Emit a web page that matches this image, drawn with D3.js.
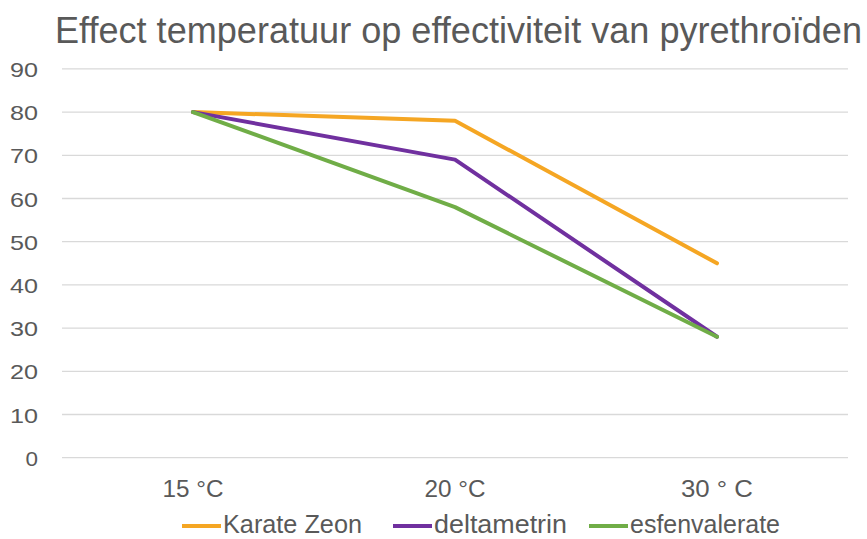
<!DOCTYPE html>
<html><head><meta charset="utf-8">
<script src="https://cdn.jsdelivr.net/npm/d3@7"></script>
<style>body{margin:0;background:#fff}text{font-family:"Liberation Sans",Arial,sans-serif;fill:#595959}</style>
</head><body><svg id="c" width="867" height="539"></svg>
<script>
const title = "Effect temperatuur op effectiviteit van pyrethroïden";
const categories = ["15 °C", "20 °C", "30 ° C"];
const seriesNames = ["Karate Zeon", "deltametrin", "esfenvalerate"];
const karateZeon = [80, 78, 45];
const deltametrin = [80, 69, 28];
const esfenvalerate = [80, 58, 28];
const yTicks = [0, 10, 20, 30, 40, 50, 60, 70, 80, 90];
const colors = ["#F5A623", "#70309F", "#70AD47"];
const series = [karateZeon, deltametrin, esfenvalerate];

const svg = d3.select("#c");
const x = d3.scaleBand().domain(categories).range([62, 848]);
const y = d3.scaleLinear().domain([0, 90]).range([457.7, 68.9]);

// gridlines
svg.append("g").selectAll("line").data(yTicks).join("line")
  .attr("x1", 62).attr("x2", 848)
  .attr("y1", d => y(d)).attr("y2", d => y(d))
  .attr("stroke", "#d9d9d9").attr("stroke-width", 1.3);

// y axis labels
const yAxis = d3.axisLeft(y).tickValues(yTicks).tickSize(0).tickPadding(0);
const gy = svg.append("g").attr("transform", "translate(38,0)").call(yAxis);
gy.select(".domain").remove();
gy.selectAll("text").attr("font-size", 21).attr("dy", "0.36em")
  .style("font-family", '"Liberation Sans",Arial,sans-serif').attr("fill", "#595959")
  .attr("textLength", d => d === 0 ? 12.5 : 28).attr("lengthAdjust", "spacingAndGlyphs");

// x axis labels
const xAxis = d3.axisBottom(x).tickSize(0).tickPadding(0);
const gx = svg.append("g").attr("transform", "translate(0,497)").call(xAxis);
gx.select(".domain").remove();
gx.selectAll("text").attr("font-size", 23).attr("dy", 0).attr("y", 0)
  .style("font-family", '"Liberation Sans",Arial,sans-serif').attr("fill", "#595959")
  .attr("textLength", (d, i) => [61, 61, 72][i]).attr("lengthAdjust", "spacingAndGlyphs");

// lines
const line = d3.line().x((d, i) => x(categories[i]) + x.bandwidth() / 2).y(d => y(d));
svg.append("g").selectAll("path").data(series).join("path")
  .attr("d", line).attr("fill", "none")
  .attr("stroke", (d, i) => colors[i]).attr("stroke-width", 4)
  .attr("stroke-linejoin", "round").attr("stroke-linecap", "round");

// title
svg.append("text").attr("x", 55).attr("y", 43).attr("font-size", 36)
  .attr("textLength", 807).attr("lengthAdjust", "spacingAndGlyphs").text(title);

// legend
const legX = [182, 393, 589];
const legTextW = [139, 133, 150];
const lg = svg.append("g").selectAll("g").data(seriesNames).join("g");
lg.append("line").attr("x1", (d, i) => legX[i]).attr("x2", (d, i) => legX[i] + 39)
  .attr("y1", 526).attr("y2", 526).attr("stroke", (d, i) => colors[i]).attr("stroke-width", 4);
lg.append("text").attr("x", (d, i) => legX[i] + 41).attr("y", 533).attr("font-size", 25)
  .attr("textLength", (d, i) => legTextW[i]).attr("lengthAdjust", "spacingAndGlyphs").text(d => d);
</script></body></html>
